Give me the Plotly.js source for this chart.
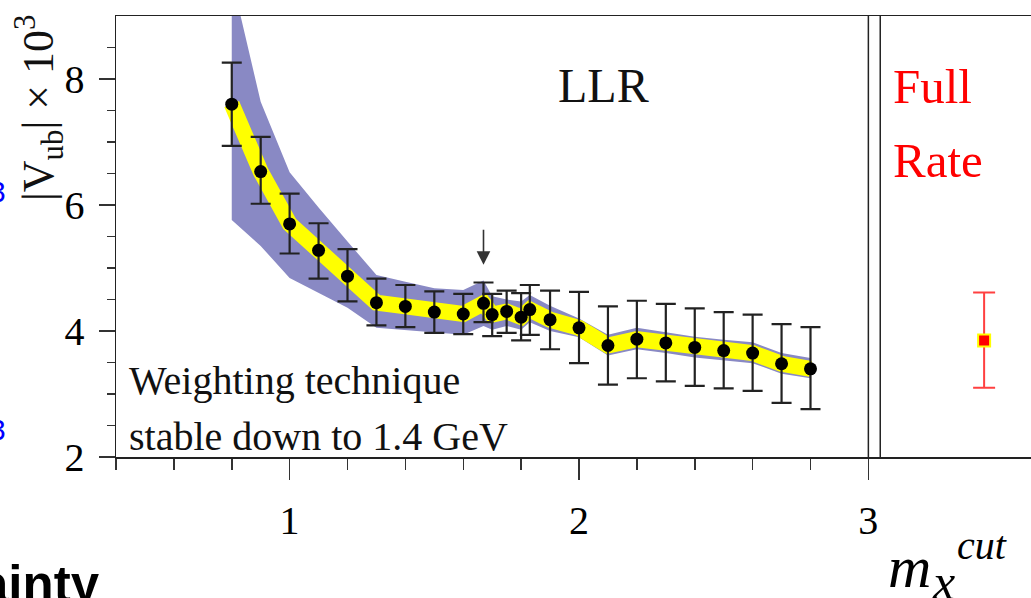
<!DOCTYPE html>
<html>
<head>
<meta charset="utf-8">
<script src="https://cdn.plot.ly/plotly-3.0.1.min.js"></script>
<style>html,body{margin:0;padding:0;background:#fff;}#chart{width:1031px;height:598px;}</style>
</head>
<body>
<div id="chart"></div>
<script>
// m_x cut values (GeV) and measured |Vub| x 10^3
const mxCut = [0.8, 0.9, 1.0, 1.1, 1.2, 1.3, 1.4, 1.5, 1.6, 1.67, 1.7, 1.75, 1.8, 1.83, 1.9, 2.0, 2.1, 2.2, 2.3, 2.4, 2.5, 2.6, 2.7, 2.8];
const vub   = [7.60, 6.53, 5.70, 5.28, 4.87, 4.45, 4.39, 4.30, 4.27, 4.44, 4.26, 4.31, 4.22, 4.34, 4.18, 4.05, 3.77, 3.87, 3.81, 3.74, 3.69, 3.65, 3.48, 3.40];
// error bar ends
const errTop = [8.26, 7.08, 6.18, 5.71, 5.30, 4.83, 4.73, 4.63, 4.59, 4.77, 4.59, 4.64, 4.60, 4.73, 4.64, 4.62, 4.39, 4.48, 4.43, 4.36, 4.30, 4.26, 4.11, 4.06];
const errBot = [6.94, 6.02, 5.23, 4.83, 4.47, 4.09, 4.06, 3.97, 3.95, 4.14, 3.92, 3.97, 3.85, 3.94, 3.71, 3.49, 3.15, 3.25, 3.20, 3.13, 3.09, 3.05, 2.86, 2.76];
// outer (blue) uncertainty band edges at the same m_x cut values
const bandTop = [9.60, 7.64, 6.52, 5.96, 5.42, 4.89, 4.78, 4.68, 4.65, 4.80, 4.55, 4.50, 4.47, 4.57, 4.40, 4.20, 3.94, 4.05, 3.98, 3.91, 3.86, 3.82, 3.65, 3.57];
const bandBot = [5.76, 5.35, 4.84, 4.60, 4.37, 4.05, 4.02, 3.98, 3.94, 4.08, 4.02, 4.08, 4.02, 4.14, 4.00, 3.90, 3.61, 3.71, 3.65, 3.58, 3.53, 3.49, 3.32, 3.25];
// full rate result
const fullX = [3.40];
const fullV = [3.85];
const fullTop = [4.61];
const fullBot = [3.10];
// ticks
const xMajor = [1, 2, 3];
const xMajorText = ['1', '2', '3'];
const xMinor = [0.4, 0.6, 0.8, 1.2, 1.4, 1.6, 1.8, 2.2, 2.4, 2.6, 2.8];
const yMajor = [2, 4, 6, 8];
const yMajorText = ['2', '4', '6', '8'];
const yMinor = [2.5, 3, 3.5, 4.5, 5, 5.5, 6.5, 7, 7.5, 8.5];
const arrowAt = {x: 1.67, tip: 5.05, tail: 5.63};

const serif = 'Liberation Serif, Times New Roman, serif';
const sans = 'Liberation Sans, Arial, sans-serif';

const band = {
  x: mxCut.concat(mxCut.slice().reverse()),
  y: bandTop.concat(bandBot.slice().reverse()),
  type: 'scatter', mode: 'lines', fill: 'toself',
  fillcolor: '#8989c4', line: {width: 0, color: '#8989c4'}, hoverinfo: 'skip'
};
const yellow = {
  x: mxCut, y: vub, type: 'scatter', mode: 'lines',
  line: {color: '#ffff00', width: 16}, hoverinfo: 'skip'
};
const pts = {
  x: mxCut, y: vub, type: 'scatter', mode: 'markers',
  marker: {color: '#000', size: 13},
  error_y: {type: 'data', symmetric: false,
    array: errTop.map((v, i) => v - vub[i]),
    arrayminus: vub.map((v, i) => v - errBot[i]),
    color: '#222', thickness: 2.2, width: 10}
};
const full = {
  x: fullX, y: fullV, type: 'scatter', mode: 'markers',
  marker: {color: '#ff0000', size: 12, symbol: 'square', line: {color: '#ffff00', width: 2}},
  error_y: {type: 'data', symmetric: false,
    array: fullTop.map((v, i) => v - fullV[i]),
    arrayminus: fullV.map((v, i) => v - fullBot[i]),
    color: '#ff4040', thickness: 2, width: 11}
};

const axisCommon = {
  showgrid: false, zeroline: false, showline: true, linecolor: '#222', linewidth: 1.5,
  ticks: 'outside', tickcolor: '#333', tickwidth: 1.5, tickmode: 'array',
  tickfont: {family: serif, size: 40, color: '#000'}
};

const layout = {
  width: 1031, height: 598,
  margin: {l: 116, r: 0, t: 16, b: 141},
  paper_bgcolor: '#fff', plot_bgcolor: '#fff',
  showlegend: false,
  xaxis: Object.assign({}, axisCommon, {
    range: [0.4, 3.562], mirror: true,
    tickvals: xMajor, ticktext: xMajorText, ticklen: 21, ticklabelstandoff: 6,
    minor: {tickmode: 'array', tickvals: xMinor, ticks: 'outside', ticklen: 11, tickwidth: 1.5, tickcolor: '#333', showgrid: false}
  }),
  yaxis: Object.assign({}, axisCommon, {
    range: [2, 9], mirror: false,
    tickvals: yMajor, ticktext: yMajorText, ticklen: 16, ticklabelstandoff: 6,
    minor: {tickmode: 'array', tickvals: yMinor, ticks: 'outside', ticklen: 8, tickwidth: 1.5, tickcolor: '#333', showgrid: false}
  }),
  shapes: [
    {type: 'line', xref: 'x', yref: 'paper', x0: 3.0, x1: 3.0, y0: 0, y1: 1, line: {color: '#222', width: 1.5}},
    {type: 'line', xref: 'x', yref: 'paper', x0: 3.041, x1: 3.041, y0: 0, y1: 1, line: {color: '#222', width: 1.5}}
  ],
  annotations: [
    {xref: 'x', yref: 'y', x: 2.085, y: 7.89, text: 'LLR', showarrow: false,
     font: {family: serif, size: 48, color: '#111'}, xanchor: 'center', yanchor: 'middle'},
    {xref: 'paper', yref: 'paper', x: (891 - 116) / 915, y: (457 - 86) / 441, text: 'Full', showarrow: false,
     font: {family: serif, size: 49, color: '#ff0000'}, xanchor: 'left', yanchor: 'middle'},
    {xref: 'paper', yref: 'paper', x: (891 - 116) / 915, y: (457 - 160) / 441, text: 'Rate', showarrow: false,
     font: {family: serif, size: 49, color: '#ff0000'}, xanchor: 'left', yanchor: 'middle'},
    {xref: 'paper', yref: 'paper', x: (127 - 116) / 915, y: (457 - 380) / 441, text: 'Weighting technique', showarrow: false,
     font: {family: serif, size: 40, color: '#111'}, xanchor: 'left', yanchor: 'middle'},
    {xref: 'paper', yref: 'paper', x: (127 - 116) / 915, y: (457 - 436) / 441, text: 'stable down to 1.4 GeV', showarrow: false,
     font: {family: serif, size: 40, color: '#111'}, xanchor: 'left', yanchor: 'middle'},
    {xref: 'paper', yref: 'paper', x: (39 - 116) / 915, y: (457 - 108) / 441, text: '|V<sub>ub</sub>| × 10<sup>3</sup>', showarrow: false,
     textangle: -90, font: {family: serif, size: 44, color: '#111'}, xanchor: 'center', yanchor: 'middle'},
    {xref: 'paper', yref: 'paper', x: (8 - 116) / 915, y: (457 - 192) / 441, text: '3', showarrow: false,
     font: {family: sans, size: 30, color: '#0000ff'}, xanchor: 'right', yanchor: 'middle'},
    {xref: 'paper', yref: 'paper', x: (8 - 116) / 915, y: (457 - 429) / 441, text: '3', showarrow: false,
     font: {family: sans, size: 30, color: '#0000ff'}, xanchor: 'right', yanchor: 'middle'},
    {xref: 'paper', yref: 'paper', x: (102 - 116) / 915, y: (457 - 584) / 441, text: '<b>ainty</b>', showarrow: false,
     font: {family: sans, size: 51, color: '#000'}, xanchor: 'right', yanchor: 'middle'},
    {xref: 'paper', yref: 'paper', x: (886 - 116) / 915, y: (457 - 567) / 441, text: '<i>m</i>', showarrow: false,
     font: {family: serif, size: 60, color: '#000'}, xanchor: 'left', yanchor: 'middle'},
    {xref: 'paper', yref: 'paper', x: (930 - 116) / 915, y: (457 - 582) / 441, text: '<i>x</i>', showarrow: false,
     font: {family: serif, size: 50, color: '#000'}, xanchor: 'left', yanchor: 'middle'},
    {xref: 'paper', yref: 'paper', x: (955 - 116) / 915, y: (457 - 545) / 441, text: '<i>cut</i>', showarrow: false,
     font: {family: serif, size: 40, color: '#000'}, xanchor: 'left', yanchor: 'middle'},
    {xref: 'x', yref: 'y', axref: 'x', ayref: 'y', x: arrowAt.x, y: arrowAt.tip, ax: arrowAt.x, ay: arrowAt.tail,
     text: '', showarrow: true, arrowhead: 2, arrowsize: 1.7, arrowwidth: 1.6, arrowcolor: '#333', standoff: 0}
  ]
};

Plotly.newPlot('chart', [band, yellow, pts, full], layout, {staticPlot: true, displayModeBar: false});
</script>
</body>
</html>
